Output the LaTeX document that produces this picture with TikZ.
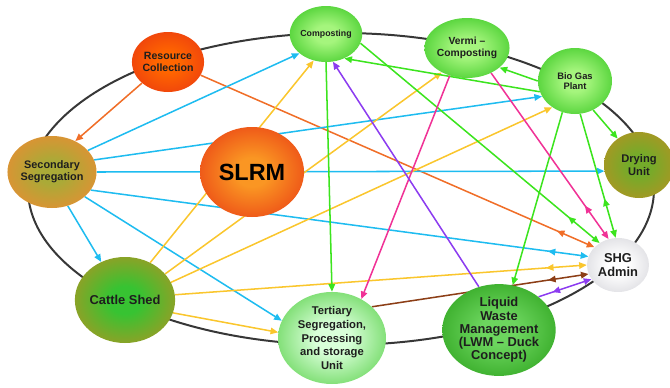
\documentclass[tikz,border=0pt]{standalone}
\usepackage{fontspec}
\setmainfont{Liberation Sans}
\usepackage{tikz}
\usetikzlibrary{shapes,arrows.meta,positioning,decorations.markings,backgrounds}
\definecolor{slrmred}{RGB}{232,52,18}
\definecolor{slrmorange}{RGB}{250,150,35}
\definecolor{segorange}{RGB}{245,135,50}
\definecolor{segcenter}{RGB}{170,170,55}
\definecolor{shedgold}{RGB}{190,142,32}
\definecolor{shedgreen}{RGB}{55,195,50}
\definecolor{leafgreen}{RGB}{45,195,25}
\definecolor{leafpale}{RGB}{165,245,125}
\definecolor{admingray}{RGB}{210,210,216}
\definecolor{inkgray}{RGB}{30,30,30}
\definecolor{ringgray}{RGB}{55,55,55}
\definecolor{lblue}{RGB}{30,188,240}
\definecolor{lyellow}{RGB}{250,198,45}
\definecolor{lorange}{RGB}{240,110,40}
\definecolor{lgreen}{RGB}{60,228,30}
\definecolor{lpink}{RGB}{240,50,150}
\definecolor{lpurple}{RGB}{140,60,240}
\definecolor{lbrown}{RGB}{140,62,22}
\colorlet{bubin}{white}
\colorlet{bubout}{black}
\pgfdeclareradialshading[bubin,bubout]{bubshade}{\pgfpoint{0bp}{0bp}}{color(0bp)=(bubin); color(8bp)=(bubin); color(36bp)=(bubout); color(50bp)=(bubout)}

\begin{document}
\begin{tikzpicture}[
    x=0.03cm, y=-0.03cm,
    >={Triangle[length=6.5pt,width=5.5pt]},
    bubble/.style={ellipse, inner sep=0pt, align=center, text=inkgray},
    tint/.style 2 args={shade, shading=bubshade, /utils/exec={\colorlet{bubin}{#1}\colorlet{bubout}{#2}}},
    redbubble/.style={bubble, tint={slrmorange}{slrmred}},
    orangebubble/.style={bubble, tint={segcenter}{segorange}},
    goldbubble/.style={bubble, tint={shedgreen}{shedgold}},
    greenbubble/.style={bubble, tint={leafpale}{leafgreen}},
    greybubble/.style={bubble, tint={white}{admingray}},
    link/.style={->, line width=1.3pt},
    twoway/.style={link, postaction={decorate}, decoration={markings, mark=at position -1cm with {\arrow{<}}}}
]

\useasboundingbox (0,0) rectangle (670,387);

% Outer ring
\draw[ringgray, line width=1.7pt] (341,189) ellipse [x radius=9.39cm, y radius=4.68cm];

% Main nodes
\node[redbubble, minimum width=3.12cm, minimum height=2.7cm, text=black, font=\bfseries\fontsize{20}{20}\selectfont] (slrm) at (252,172) {SLRM};
\node[redbubble, tint={orange!80!red}{slrmred}, minimum width=2.1cm, minimum height=1.8cm, font=\bfseries\fontsize{9}{10}\selectfont] (rc) at (168,62) {Resource\\Collection};
\node[orangebubble, minimum width=2.52cm, minimum height=2.16cm, font=\bfseries\fontsize{9.3}{10.5}\selectfont] (sec) at (52,172) {Secondary\\Segregation};
\node[goldbubble, minimum width=2.94cm, minimum height=2.58cm, font=\bfseries\fontsize{11}{12}\selectfont] (cattle) at (125,300) {Cattle Shed};
\node[goldbubble, tint={shedgold!45!shedgreen}{shedgold}, minimum width=2.1cm, minimum height=1.98cm, font=\bfseries\fontsize{9.5}{11}\selectfont] (dry) at (639,165) {Drying\\Unit};

% Green nodes
\node[greenbubble, minimum width=1.92cm, minimum height=1.68cm, font=\bfseries\fontsize{7.5}{8.5}\selectfont] (comp) at (326,34) {Composting};
\node[greenbubble, minimum width=2.1cm, minimum height=1.8cm, font=\bfseries\fontsize{8.8}{10}\selectfont] (vermi) at (467,48) {Vermi –\\Composting};
\node[greenbubble, minimum width=2.22cm, minimum height=1.98cm, font=\bfseries\fontsize{8}{9}\selectfont] (biogas) at (575,81) {Bio Gas\\Plant};
\node[greenbubble, tint={green!15!white}{leafgreen!85!white}, minimum width=3.24cm, minimum height=2.76cm, font=\bfseries\fontsize{9.6}{11.6}\selectfont] (tert) at (332,338) {Tertiary\\Segregation,\\Processing\\and storage\\Unit};
\node[greenbubble, tint={leafgreen!70!white}{leafgreen!80!black}, minimum width=2.94cm, minimum height=2.52cm, font=\bfseries\fontsize{11}{11.3}\selectfont] (lwm) at (499,330) {Liquid\\Waste\\Management\\(LWM – Duck\\Concept)};
\node[greybubble, minimum width=1.86cm, minimum height=1.62cm, font=\bfseries\fontsize{11}{12}\selectfont] (shg) at (618,265) {SHG\\Admin};

% Arrows
\begin{scope}[on background layer]
\draw[link, lorange] (rc.219) -- (sec.53);
\draw[twoway, lorange] (rc.-22) -- (shg.143);

\draw[link, lblue] (sec.31) -- (comp.216);
\draw[link, lblue] (sec.16) -- (biogas.205);
\draw[link, lblue] (sec.0) -- (dry.190);
\draw[twoway, lblue] (sec.-25) -- (shg.164);
\draw[link, lblue] (sec.-65) -- (cattle.122);
\draw[link, lblue] (sec.-37) -- (tert.161);

\draw[link, lyellow] (cattle.56) -- (comp.245);
\draw[link, lyellow] (cattle.33) -- (vermi.224);
\draw[link, lyellow] (cattle.21) -- (biogas.229);
\draw[twoway, lyellow] (cattle.6) -- (shg.180);
\draw[link, lyellow] (cattle.-15) -- (tert.174);

\draw[link, lgreen] (comp.270) -- (tert.90);
\draw[twoway, lgreen] (comp.-15) -- (shg.130);
\draw[link, lgreen] (biogas.197) -- (comp.-53);
\draw[link, lgreen] (biogas.180) -- (vermi.-31);
\draw[link, lgreen] (biogas.-58) -- (dry.129);
\draw[twoway, lgreen] (biogas.-81) -- (shg.95);
\draw[link, lgreen] (biogas.-112) -- (lwm.73);

\draw[link, lpink] (vermi.-122) -- (tert.53);
\draw[twoway, lpink] (vermi.-46) -- (shg.110);

\draw[link, lpurple] (lwm.115) -- (comp.-76);
\draw[twoway, lpurple] (lwm.40) -- (shg.208);

\draw[twoway, lbrown] (tert.38) -- (shg.197);
\end{scope}

\end{tikzpicture}
\end{document}
